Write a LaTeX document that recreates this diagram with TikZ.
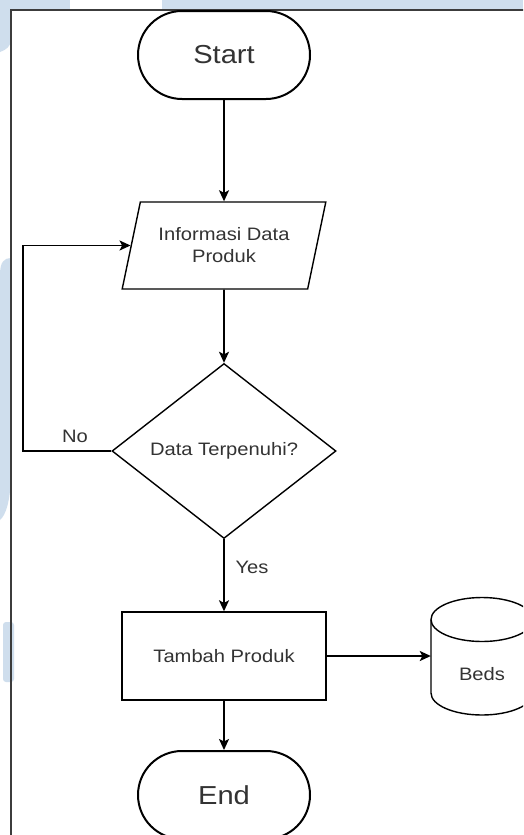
\documentclass[tikz,border=0pt]{standalone}
\usepackage{fontspec}
\setmainfont{Liberation Sans}[FakeStretch=1.12]
\usetikzlibrary{shapes.geometric,arrows.meta}

\definecolor{wm}{RGB}{207,222,237}
\definecolor{ink}{RGB}{51,51,51}
\definecolor{frame}{RGB}{60,60,60}

\tikzset{
  base/.style={draw=black, fill=white, text=ink, inner sep=0pt, align=center,
    font=\fontsize{18}{22}\selectfont},
  term/.style={base, rectangle, rounded corners=44pt, line width=2pt,
    minimum width=172pt, minimum height=88pt, font=\fontsize{26}{30}\selectfont},
  io/.style={base, trapezium, trapezium left angle=68, trapezium right angle=112,
    trapezium stretches=true, line width=1.4pt, minimum width=204pt, minimum height=87pt},
  decision/.style={base, diamond, line width=1.4pt, minimum width=224pt, minimum height=175pt},
  proc/.style={base, rectangle, line width=1.4pt, minimum width=204pt, minimum height=88pt},
  store/.style={base, draw=none, fill=none, minimum width=102pt, minimum height=118pt,
    text height=49pt, text depth=0pt},
  tag/.style={text=ink, inner sep=0pt, font=\fontsize{18}{22}\selectfont},
  arr/.style={line width=1.6pt, -{Stealth[length=11pt,width=10pt,inset=2.5pt]}},
}

\begin{document}
\begin{tikzpicture}[x=1pt, y=-1pt]
  \useasboundingbox (0,0) rectangle (523,835);
  \clip (0,0) rectangle (523,835);
  \fill[white] (0,0) rectangle (523,835);

  % light blue background marks
  \fill[wm] (0,0) rectangle (70,10);
  \fill[wm] (162,0) rectangle (523,10);
  \fill[wm] (0,0) -- (11,0) -- (11,40) .. controls (11,46) and (6,50) .. (0,52) -- cycle;
  \fill[wm] (0,520) -- (0,275) .. controls (0,262) and (4,258) .. (11,258) -- (11,470)
            .. controls (11,500) and (6,515) .. (0,520) -- cycle;
  \fill[wm, rounded corners=3pt] (3,622) rectangle (14,682);

  % page frame
  \draw[frame, line width=1.5pt] (11,836) -- (11,10) -- (524,10);

  % flow steps
  \node[term] (start) at (224,55) {Start};
  \node[io] (info) at (224,245.5) {Informasi Data\\Produk};
  \node[decision] (dec) at (224,451) {Data Terpenuhi?};
  \node[proc] (tambah) at (224,656) {Tambah Produk};
  \node[term] (end) at (224,795) {End};

  % data store drawn as a cylinder (y axis points down here)
  \filldraw[fill=white, draw=black, line width=1.4pt]
    (431,619.5) -- (431,693) arc (180:0:51 and 22) -- (533,619.5)
    arc (0:-180:51 and 22) -- cycle;
  \draw[line width=1.4pt] (431,619.5) arc (180:0:51 and 22);
  \node[store] (beds) at (482,656) {Beds};

  % connectors
  \draw[arr] (start) -- (info);
  \draw[arr] (info) -- (dec);
  \draw[arr] (dec) -- (tambah);
  \draw[arr] (tambah) -- (end);
  \draw[arr] (tambah.east) -- (beds.west);
  \coordinate (loopcorner) at (23,451);
  \draw[arr] (dec.west) -- (loopcorner) |- (info.west);

  % branch labels
  \node[tag] (nolabel) at (75,436) {No};
  \node[tag] (yeslabel) at (252,567) {Yes};
\end{tikzpicture}
\end{document}
